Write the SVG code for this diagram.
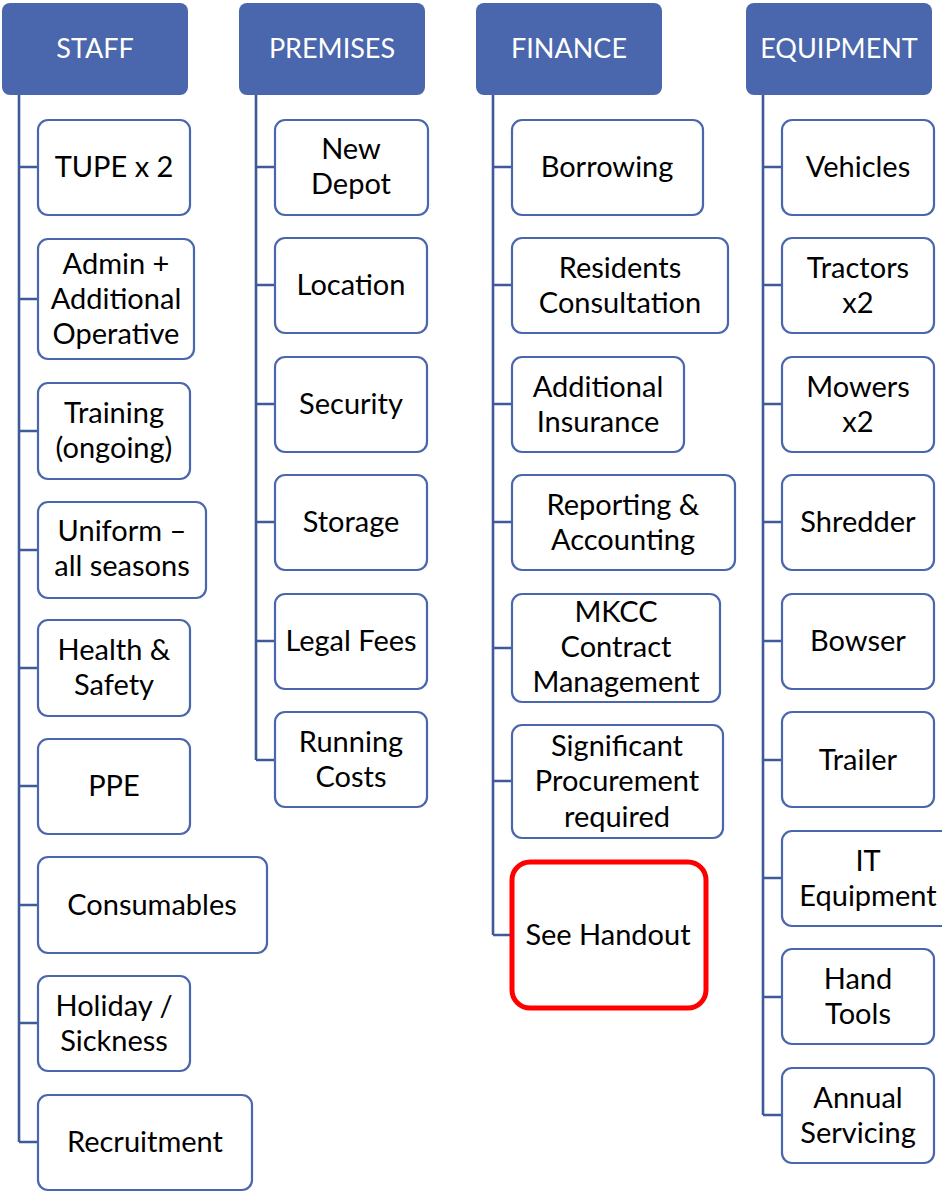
<svg xmlns="http://www.w3.org/2000/svg" width="942" height="1196" viewBox="0 0 942 1196">
<style>
.hd rect{fill:#4a66ac;}
.hd text{fill:#fff;font-size:27px;}
text{font-family:Lato,"Liberation Sans",sans-serif;font-size:29px;text-anchor:middle;fill:#000;}
.nd rect{fill:#fff;stroke:#4a66ac;stroke-width:2.2;}
.red rect{fill:#fff;stroke:#ff0000;stroke-width:5;}
#connectors path{fill:none;stroke:#3f5a98;stroke-width:2.6;}
</style>
<rect width="942" height="1196" fill="#fff"/>
<g id="connectors">
<path d="M19,95 V1142 M19,167 H38 M19,299 H38 M19,431 H38 M19,550 H38 M19,668 H38 M19,786 H38 M19,905 H38 M19,1023 H38 M19,1142 H38"/>
<path d="M256,95 V760 M256,167 H275 M256,285 H275 M256,404 H275 M256,522 H275 M256,641 H275 M256,760 H275"/>
<path d="M493,95 V935 M493,167 H512 M493,285 H512 M493,404 H512 M493,522 H512 M493,648 H512 M493,781 H512 M493,935 H512"/>
<path d="M763,95 V1115 M763,167 H782 M763,285 H782 M763,404 H782 M763,522 H782 M763,641 H782 M763,760 H782 M763,878 H782 M763,997 H782 M763,1115 H782"/>
</g>
<g id="staff" class="hd"><rect x="2" y="3" width="186" height="92" rx="8"/><text x="95" y="58">STAFF</text></g>
<g id="premises" class="hd"><rect x="239" y="3" width="186" height="92" rx="8"/><text x="332" y="58">PREMISES</text></g>
<g id="finance" class="hd"><rect x="476" y="3" width="186" height="92" rx="8"/><text x="569" y="58">FINANCE</text></g>
<g id="equipment" class="hd"><rect x="746" y="3" width="186" height="92" rx="8"/><text x="839" y="58">EQUIPMENT</text></g>

<g id="tupe" class="nd"><rect x="38" y="120" width="152" height="95" rx="10"/><text x="114" y="177">TUPE x 2</text></g>
<g id="admin" class="nd"><rect x="38" y="239" width="156" height="120" rx="10"/><text x="116" y="274">Admin +</text><text x="116" y="309">Additional</text><text x="116" y="344">Operative</text></g>
<g id="training" class="nd"><rect x="38" y="383" width="152" height="96" rx="10"/><text x="114" y="423">Training</text><text x="114" y="458">(ongoing)</text></g>
<g id="uniform" class="nd"><rect x="38" y="502" width="168" height="96" rx="10"/><text x="122" y="541">Uniform –</text><text x="122" y="576">all seasons</text></g>
<g id="health" class="nd"><rect x="38" y="620" width="152" height="96" rx="10"/><text x="114" y="660">Health &amp;</text><text x="114" y="695">Safety</text></g>
<g id="ppe" class="nd"><rect x="38" y="739" width="152" height="95" rx="10"/><text x="114" y="796">PPE</text></g>
<g id="consumables" class="nd"><rect x="38" y="857" width="229" height="96" rx="10"/><text x="152" y="915">Consumables</text></g>
<g id="holiday" class="nd"><rect x="38" y="976" width="152" height="95" rx="10"/><text x="114" y="1016">Holiday /</text><text x="114" y="1051">Sickness</text></g>
<g id="recruitment" class="nd"><rect x="38" y="1095" width="214" height="95" rx="10"/><text x="145" y="1152">Recruitment</text></g>

<g id="newdepot" class="nd"><rect x="275" y="120" width="153" height="95" rx="10"/><text x="351" y="159">New</text><text x="351" y="194">Depot</text></g>
<g id="location" class="nd"><rect x="275" y="238" width="152" height="95" rx="10"/><text x="351" y="295">Location</text></g>
<g id="security" class="nd"><rect x="275" y="357" width="152" height="95" rx="10"/><text x="351" y="414">Security</text></g>
<g id="storage" class="nd"><rect x="275" y="475" width="152" height="95" rx="10"/><text x="351" y="532">Storage</text></g>
<g id="legalfees" class="nd"><rect x="275" y="594" width="152" height="95" rx="10"/><text x="351" y="651">Legal Fees</text></g>
<g id="runningcosts" class="nd"><rect x="275" y="712" width="152" height="95" rx="10"/><text x="351" y="752">Running</text><text x="351" y="787">Costs</text></g>

<g id="borrowing" class="nd"><rect x="512" y="120" width="191" height="95" rx="10"/><text x="607" y="177">Borrowing</text></g>
<g id="residents" class="nd"><rect x="512" y="238" width="216" height="95" rx="10"/><text x="620" y="278">Residents</text><text x="620" y="313">Consultation</text></g>
<g id="insurance" class="nd"><rect x="512" y="357" width="172" height="95" rx="10"/><text x="598" y="397">Additional</text><text x="598" y="432">Insurance</text></g>
<g id="reporting" class="nd"><rect x="512" y="475" width="223" height="95" rx="10"/><text x="623" y="515">Reporting &amp;</text><text x="623" y="550">Accounting</text></g>
<g id="mkcc" class="nd"><rect x="512" y="594" width="208" height="108" rx="10"/><text x="616" y="622">MKCC</text><text x="616" y="657">Contract</text><text x="616" y="692">Management</text></g>
<g id="procurement" class="nd"><rect x="512" y="725" width="211" height="113" rx="10"/><text x="617" y="756">Significant</text><text x="617" y="791">Procurement</text><text x="617" y="827">required</text></g>
<g id="handout" class="red"><rect x="512" y="862" width="194" height="146" rx="18"/><text x="608" y="945">See Handout</text></g>

<g id="vehicles" class="nd"><rect x="782" y="120" width="152" height="95" rx="10"/><text x="858" y="177">Vehicles</text></g>
<g id="tractors" class="nd"><rect x="782" y="238" width="152" height="95" rx="10"/><text x="858" y="278">Tractors</text><text x="858" y="313">x2</text></g>
<g id="mowers" class="nd"><rect x="782" y="357" width="152" height="95" rx="10"/><text x="858" y="397">Mowers</text><text x="858" y="432">x2</text></g>
<g id="shredder" class="nd"><rect x="782" y="475" width="152" height="95" rx="10"/><text x="858" y="532">Shredder</text></g>
<g id="bowser" class="nd"><rect x="782" y="594" width="152" height="95" rx="10"/><text x="858" y="651">Bowser</text></g>
<g id="trailer" class="nd"><rect x="782" y="712" width="152" height="95" rx="10"/><text x="858" y="770">Trailer</text></g>
<g id="itequipment" class="nd"><rect x="782" y="831" width="172" height="95" rx="10"/><text x="868" y="871">IT</text><text x="868" y="906">Equipment</text></g>
<g id="handtools" class="nd"><rect x="782" y="949" width="152" height="95" rx="10"/><text x="858" y="989">Hand</text><text x="858" y="1024">Tools</text></g>
<g id="servicing" class="nd"><rect x="782" y="1068" width="152" height="95" rx="10"/><text x="858" y="1108">Annual</text><text x="858" y="1143">Servicing</text></g>
</svg>
